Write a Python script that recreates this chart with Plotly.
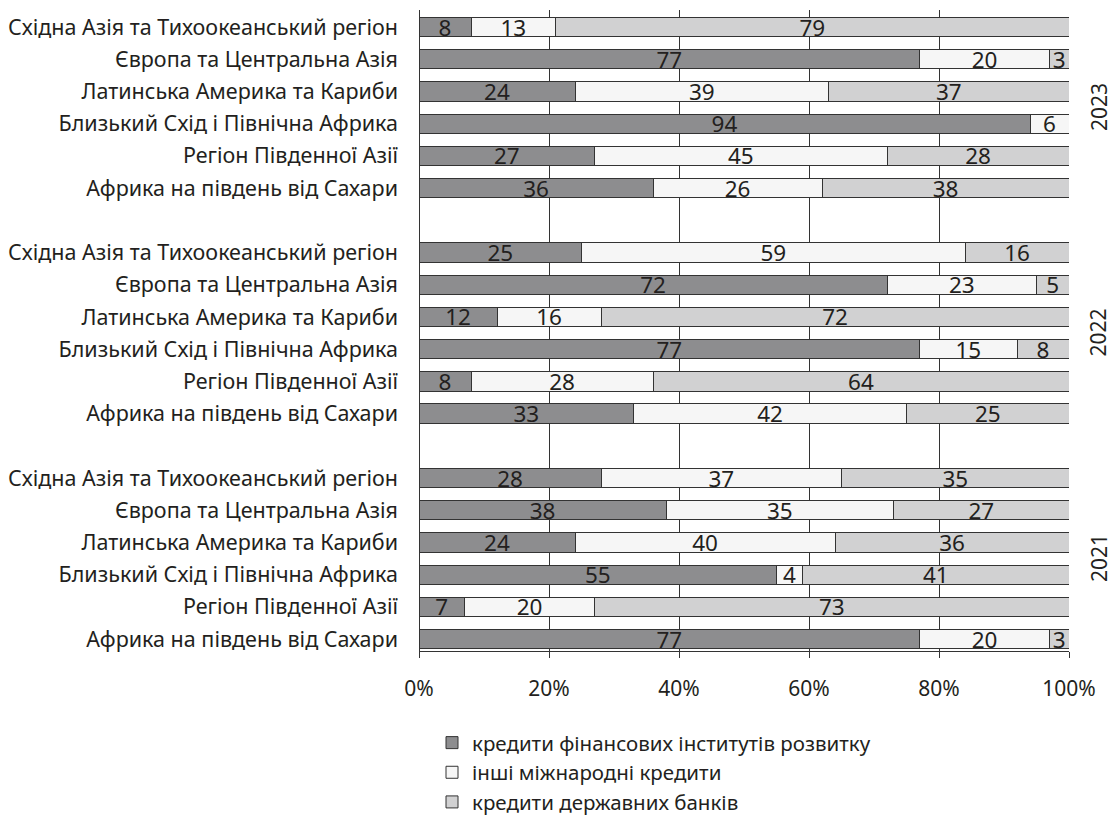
import plotly.graph_objects as go

# Regions, listed top to bottom within each year block
regions = [
    "Східна Азія та Тихоокеанський регіон",
    "Європа та Центральна Азія",
    "Латинська Америка та Кариби",
    "Близький Схід і Північна Африка",
    "Регіон Південної Азії",
    "Африка на південь від Сахари",
]
years = ["2023", "2022", "2021"]

# Shares (%) per year, same region order as above
dfi_2023 = [8, 77, 24, 94, 27, 36]
other_2023 = [13, 20, 39, 6, 45, 26]
state_2023 = [79, 3, 37, 0, 28, 38]

dfi_2022 = [25, 72, 12, 77, 8, 33]
other_2022 = [59, 23, 16, 15, 28, 42]
state_2022 = [16, 5, 72, 8, 64, 25]

dfi_2021 = [28, 38, 24, 55, 7, 77]
other_2021 = [37, 35, 40, 4, 20, 20]
state_2021 = [35, 27, 36, 41, 73, 3]

series_names = [
    "кредити фінансових інститутів розвитку",
    "інші міжнародні кредити",
    "кредити державних банків",
]
series_colors = ["#8d8d8f", "#f6f6f6", "#d1d1d2"]

dfi = dfi_2023 + dfi_2022 + dfi_2021
other = other_2023 + other_2022 + other_2021
state = state_2023 + state_2022 + state_2021

# one empty slot between year blocks
n = len(regions)
gap = 1
ypos = [g * (n + gap) + r for g in range(len(years)) for r in range(n)]
ylabels = regions * len(years)

FONT = "Noto Sans"
TXT = "#231f20"

fig = go.Figure()
for name, vals, col in zip(series_names, [dfi, other, state], series_colors):
    fig.add_trace(go.Bar(
        y=ypos, x=vals, name=name, orientation="h",
        marker=dict(color=col, line=dict(color="#333333", width=1)),
        width=0.6,
        text=[str(v) if v else "" for v in vals],
        textposition="inside", insidetextanchor="middle", textangle=0,
        textfont=dict(family=FONT, size=22.5, color=TXT),
        cliponaxis=False,
    ))

for g, yr in enumerate(years):
    center = g * (n + gap) + (n - 1) / 2
    fig.add_annotation(
        x=1.07, xref="paper", y=center, yref="y",
        text=yr, textangle=-90, showarrow=False,
        font=dict(family=FONT, size=21, color=TXT),
    )

fig.update_layout(
    barmode="stack",
    width=1117, height=821,
    margin=dict(l=419, r=48, t=10, b=170, autoexpand=False),
    paper_bgcolor="white", plot_bgcolor="white",
    font=dict(family=FONT, size=21, color=TXT),
    uniformtext=dict(mode="show", minsize=22.5),
    showlegend=True,
    legend=dict(
        x=0.02, xanchor="left", y=-0.112, yanchor="top",
        font=dict(family=FONT, size=20.5, color=TXT),
        traceorder="normal", tracegroupgap=0, itemwidth=30,
    ),
    xaxis=dict(
        range=[0, 100], tickvals=[0, 20, 40, 60, 80, 100],
        ticktext=["0%", "20%", "40%", "60%", "80%", "100%"],
        showgrid=True, gridcolor="#333333", gridwidth=1,
        zeroline=True, zerolinecolor="#333333", zerolinewidth=1,
        showline=True, linecolor="#333333", linewidth=1,
        ticks="outside", ticklen=6, tickcolor="#333333",
        ticklabelstandoff=13,
        tickfont=dict(family=FONT, size=21, color=TXT),
    ),
    yaxis=dict(
        tickvals=ypos, ticktext=ylabels,
        range=[19.37, -0.53],
        showgrid=False, zeroline=False, showline=False,
        ticks="", ticklabelstandoff=20,
        tickfont=dict(family=FONT, size=21.5, color=TXT),
    ),
)

fig.write_html("out.html")
